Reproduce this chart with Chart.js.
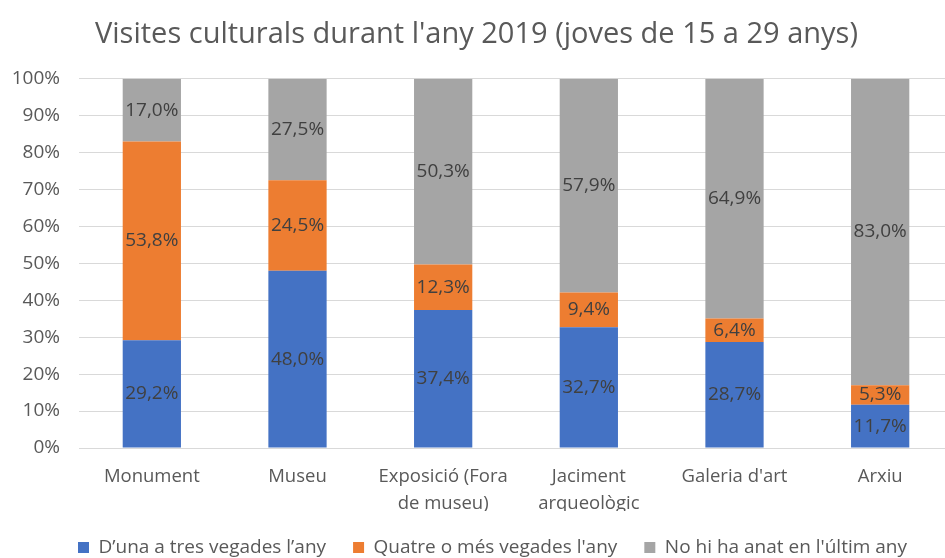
<!DOCTYPE html>
<html>
<head>
<meta charset="utf-8">
<script src="https://cdn.jsdelivr.net/npm/chart.js@4"></script>
<style>
    html, body { margin: 0; padding: 0; background: #fff; overflow: hidden; }
    #wrap { width: 953px; height: 567px; }
</style>
</head>
<body>
<div id="wrap"><canvas id="visitesChart"></canvas></div>
<script>
const categories = ['Monument', 'Museu', ['Exposició (Fora', 'de museu)'], ['Jaciment', 'arqueològic'], "Galeria d'art", 'Arxiu'];
const unaATres = [29.2, 48.0, 37.4, 32.7, 28.7, 11.7];
const quatreOMes = [53.8, 24.5, 12.3, 9.4, 6.4, 5.3];
const noHiHaAnat = [17.0, 27.5, 50.3, 57.9, 64.9, 83.0];
const seriesNames = ['D\u2019una a tres vegades l\u2019any', "Quatre o més vegades l'any", "No hi ha anat en l'últim any"];
const yTicks = [0, 10, 20, 30, 40, 50, 60, 70, 80, 90, 100];

const FONT = "'Open Sans', sans-serif";

// etiquetes de dades al centre de cada segment
const barLabels = {
    id: 'barLabels',
    afterLayout(chart) {
        // la llegenda de l'original no està centrada del tot
        chart.legend.left += 16;
        chart.legend.right += 16;
    },
    afterDatasetsDraw(chart) {
        const ctx = chart.ctx;
        ctx.save();
        ctx.font = '19px ' + FONT;
        ctx.fillStyle = '#404040';
        ctx.textAlign = 'center';
        ctx.textBaseline = 'middle';
        chart.data.datasets.forEach((ds, i) => {
            chart.getDatasetMeta(i).data.forEach((bar, j) => {
                const txt = ds.data[j].toFixed(1).replace('.', ',') + '%';
                ctx.fillText(txt, bar.x, (bar.y + bar.base) / 2);
            });
        });
        ctx.restore();
    }
};

const ctx = document.getElementById('visitesChart');

new Chart(ctx, {
    type: 'bar',
    data: {
        labels: categories,
        datasets: [
            { label: seriesNames[0], data: unaATres, backgroundColor: '#4472C4' },
            { label: seriesNames[1], data: quatreOMes, backgroundColor: '#ED7D31' },
            { label: seriesNames[2], data: noHiHaAnat, backgroundColor: '#A5A5A5' }
        ]
    },
    options: {
        responsive: true,
        maintainAspectRatio: false,
        animation: false,
        barPercentage: 0.4,
        categoryPercentage: 1,
        layout: { padding: 0 },
        scales: {
            x: {
                stacked: true,
                grid: { display: false },
                border: { color: '#D9D9D9', width: 1 },
                ticks: { color: '#595959', font: { family: FONT, size: 18.5, lineHeight: 1.45 }, maxRotation: 0, autoSkip: false, padding: 7 },
                afterFit: (scale) => { scale.height = 63; }
            },
            y: {
                stacked: true,
                min: 0,
                max: 100,
                afterBuildTicks: (scale) => { scale.ticks = yTicks.map(v => ({ value: v })); },
                grid: { color: '#D9D9D9', drawTicks: false },
                border: { display: false },
                ticks: {
                    color: '#595959',
                    font: { family: FONT, size: 19 },
                    padding: 19,
                    callback: (v) => v + '%'
                },
                afterFit: (scale) => { scale.width = 79; }
            }
        },
        plugins: {
            title: {
                display: true,
                text: "Visites culturals durant l'any 2019 (joves de 15 a 29 anys)",
                color: '#595959',
                font: { family: FONT, size: 29, weight: 'normal' },
                padding: { top: 17, bottom: 27 }
            },
            legend: {
                position: 'bottom',
                labels: {
                    color: '#595959',
                    font: { family: FONT, size: 19 },
                    boxWidth: 11,
                    boxHeight: 11,
                    padding: 27
                }
            },
            tooltip: { enabled: false }
        }
    },
    plugins: [barLabels]
});
</script>
</body>
</html>
